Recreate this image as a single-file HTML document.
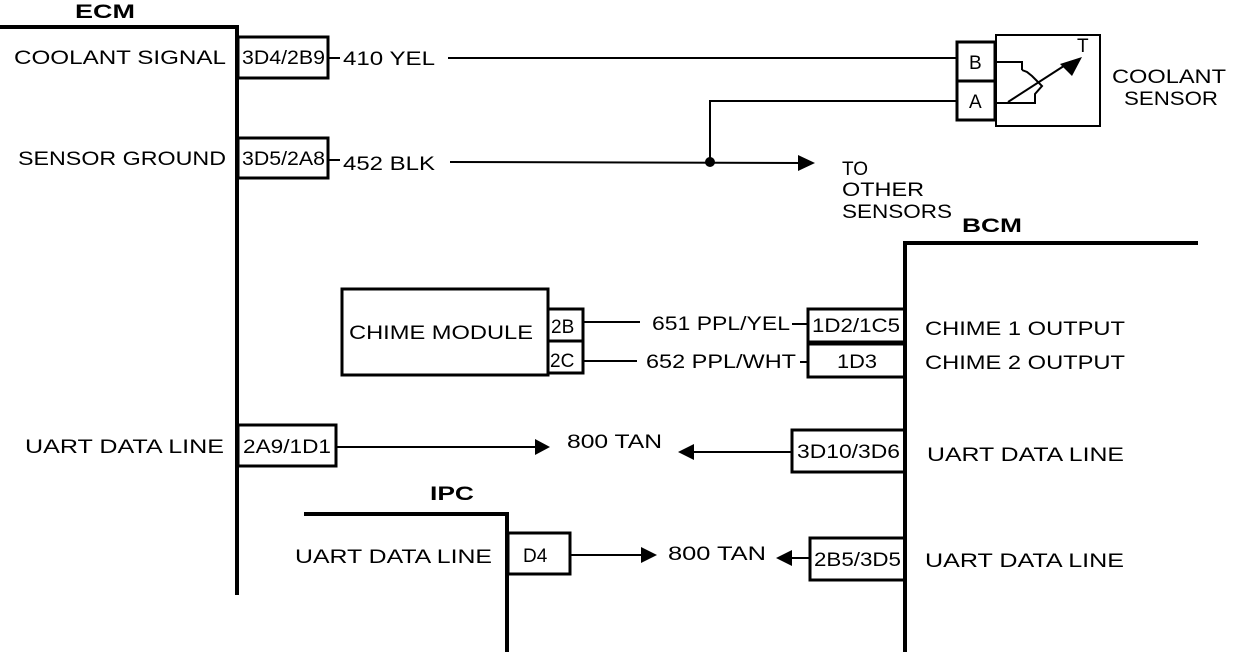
<!DOCTYPE html>
<html><head><meta charset="utf-8"><style>html,body{margin:0;padding:0;background:#fff}svg{display:block}text{font-family:"Liberation Sans",Arial,sans-serif;font-size:19px;fill:#000}</style></head><body>
<svg width="1248" height="652" viewBox="0 0 1248 652" xmlns="http://www.w3.org/2000/svg">
<g stroke="#000" fill="none">
<!-- ECM -->
<polyline points="0,27 237,27 237,595" stroke-width="4"/>
<rect x="238" y="37" width="90" height="41" stroke-width="3"/>
<rect x="238" y="138" width="90" height="40" stroke-width="3"/>
<line x1="328" y1="58" x2="340" y2="58" stroke-width="2"/>
<line x1="448" y1="58" x2="958" y2="58" stroke-width="2"/>
<line x1="328" y1="160" x2="340" y2="160" stroke-width="2"/>
<line x1="450" y1="162" x2="802" y2="163" stroke-width="2"/>
<polyline points="710,162 710,101 958,101" stroke-width="2"/>
<!-- sensor -->
<rect x="957" y="42" width="38" height="78" stroke-width="3"/>
<line x1="957" y1="81" x2="995" y2="81" stroke-width="3"/>
<rect x="996" y="35" width="104" height="91" stroke-width="2"/>
<polyline points="995,62 1022,62 1022,70" stroke-width="2"/>
<polyline points="995,103 1035,103 1035,94 1042,86 1036,80 1032,76 1027,72 1022,70" stroke-width="2"/>
<line x1="1008" y1="102" x2="1070" y2="62" stroke-width="2"/>
<!-- BCM -->
<polyline points="905,652 905,243 1198,243" stroke-width="4"/>
<!-- chime -->
<rect x="342" y="289" width="206" height="86" stroke-width="3"/>
<rect x="548" y="309" width="35" height="32" stroke-width="3"/>
<rect x="548" y="341" width="35" height="32" stroke-width="3"/>
<line x1="583" y1="322" x2="640" y2="322" stroke-width="2"/>
<line x1="583" y1="361" x2="637" y2="361" stroke-width="2"/>
<line x1="792" y1="324" x2="808" y2="324" stroke-width="2"/>
<line x1="800" y1="362" x2="808" y2="362" stroke-width="2"/>
<rect x="808" y="309" width="97" height="33" stroke-width="3"/>
<rect x="808" y="344" width="97" height="33" stroke-width="3"/>
<!-- UART ECM/BCM -->
<rect x="238" y="425" width="98" height="41" stroke-width="3"/>
<line x1="336" y1="447" x2="538" y2="447" stroke-width="2"/>
<rect x="792" y="430" width="113" height="42" stroke-width="3"/>
<line x1="690" y1="452" x2="792" y2="452" stroke-width="2"/>
<!-- IPC -->
<polyline points="304,514 507,514 507,652" stroke-width="4"/>
<rect x="508" y="533" width="62" height="41" stroke-width="3"/>
<line x1="570" y1="555" x2="645" y2="555" stroke-width="2"/>
<rect x="810" y="538" width="95" height="42" stroke-width="3"/>
<line x1="786" y1="558" x2="810" y2="558" stroke-width="2"/>
</g>
<g fill="#000">
<circle cx="710" cy="162" r="5"/>
<polygon points="798,155 815,163 798,171"/>
<polygon points="1082,57 1060,64 1072,76"/>
<polygon points="535,439 550,447 535,455"/>
<polygon points="694,444 678,452 694,460"/>
<polygon points="641,547 657,555 641,563"/>
<polygon points="792,550 776,558 792,566"/>
</g>
<text x="75" y="18" font-weight="bold" textLength="60" lengthAdjust="spacingAndGlyphs">ECM</text>
<text x="14" y="64" textLength="212" lengthAdjust="spacingAndGlyphs">COOLANT SIGNAL</text>
<text x="242" y="64" font-size="16" textLength="83" lengthAdjust="spacingAndGlyphs">3D4/2B9</text>
<text x="343" y="65" textLength="92" lengthAdjust="spacingAndGlyphs">410 YEL</text>
<text x="18" y="165" textLength="208" lengthAdjust="spacingAndGlyphs">SENSOR GROUND</text>
<text x="242" y="165" font-size="16" textLength="83" lengthAdjust="spacingAndGlyphs">3D5/2A8</text>
<text x="343" y="170" textLength="92" lengthAdjust="spacingAndGlyphs">452 BLK</text>
<text x="969" y="69" font-size="18">B</text>
<text x="969" y="108" font-size="18">A</text>
<text x="1077" y="52" font-size="16">T</text>
<text x="1112" y="83" textLength="114" lengthAdjust="spacingAndGlyphs">COOLANT</text>
<text x="1124" y="105" textLength="94" lengthAdjust="spacingAndGlyphs">SENSOR</text>
<text x="842" y="175" font-size="18">TO</text>
<text x="842" y="196" font-size="18" textLength="82" lengthAdjust="spacingAndGlyphs">OTHER</text>
<text x="842" y="218" font-size="18" textLength="110" lengthAdjust="spacingAndGlyphs">SENSORS</text>
<text x="962" y="232" font-weight="bold" textLength="60" lengthAdjust="spacingAndGlyphs">BCM</text>
<text x="349" y="339" textLength="184" lengthAdjust="spacingAndGlyphs">CHIME MODULE</text>
<text x="551" y="333" font-size="18">2B</text>
<text x="550" y="367" font-size="18">2C</text>
<text x="652" y="330" textLength="138" lengthAdjust="spacingAndGlyphs">651 PPL/YEL</text>
<text x="646" y="368" textLength="150" lengthAdjust="spacingAndGlyphs">652 PPL/WHT</text>
<text x="812" y="332" font-size="16" textLength="88" lengthAdjust="spacingAndGlyphs">1D2/1C5</text>
<text x="837" y="368" font-size="16" textLength="40" lengthAdjust="spacingAndGlyphs">1D3</text>
<text x="925" y="335" textLength="200" lengthAdjust="spacingAndGlyphs">CHIME 1 OUTPUT</text>
<text x="925" y="369" textLength="200" lengthAdjust="spacingAndGlyphs">CHIME 2 OUTPUT</text>
<text x="25" y="453" textLength="199" lengthAdjust="spacingAndGlyphs">UART DATA LINE</text>
<text x="243" y="453" font-size="17" textLength="88" lengthAdjust="spacingAndGlyphs">2A9/1D1</text>
<text x="567" y="448" textLength="95" lengthAdjust="spacingAndGlyphs">800 TAN</text>
<text x="797" y="458" font-size="16" textLength="103" lengthAdjust="spacingAndGlyphs">3D10/3D6</text>
<text x="927" y="461" textLength="197" lengthAdjust="spacingAndGlyphs">UART DATA LINE</text>
<text x="430" y="500" font-weight="bold" textLength="44" lengthAdjust="spacingAndGlyphs">IPC</text>
<text x="295" y="563" textLength="197" lengthAdjust="spacingAndGlyphs">UART DATA LINE</text>
<text x="523" y="562" font-size="18">D4</text>
<text x="668" y="560" textLength="98" lengthAdjust="spacingAndGlyphs">800 TAN</text>
<text x="814" y="566" font-size="16" textLength="87" lengthAdjust="spacingAndGlyphs">2B5/3D5</text>
<text x="925" y="567" textLength="199" lengthAdjust="spacingAndGlyphs">UART DATA LINE</text>
</svg>
</body></html>
